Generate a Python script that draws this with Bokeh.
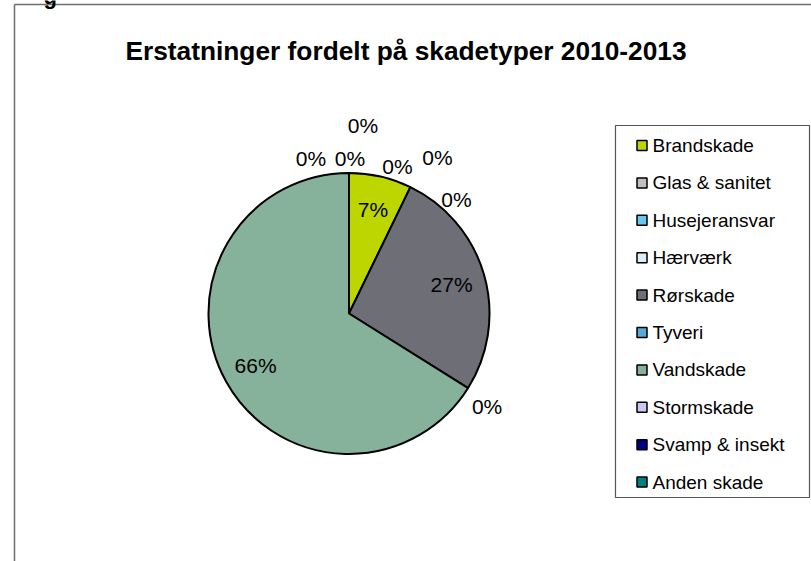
import math
from bokeh.plotting import figure
from bokeh.models import Range1d
from bokeh.embed import file_html
from bokeh.resources import INLINE
from bokeh.core.properties import value

# ---------------- data ----------------
categories = ["Brandskade", "Glas & sanitet", "Husejeransvar", "Hærværk", "Rørskade",
              "Tyveri", "Vandskade", "Stormskade", "Svamp & insekt", "Anden skade"]
shares = [7.2, 0.0, 0.0, 0.0, 26.7, 0.0, 66.1, 0.0, 0.0, 0.0]
colors = ["#BED600", "#C0C0C0", "#6CC8EA", "#DCEEF6", "#6E6E76",
          "#5AA8D6", "#86B29B", "#C8C8F0", "#000080", "#008080"]
title_text = "Erstatninger fordelt på skadetyper 2010-2013"

# ---------------- layout / style ----------------
W, H = 811, 561
FONT = value("Liberation Sans")
cx, cy, R = 348.5, 313.0, 140.5
inside_r = 0.76
# nudges (px) of the outside labels of zero slices, relative to their edge point
zero_nudge = {1: (-13, -21), 2: (27, -30), 3: (46, 12), 5: (19, 18),
              7: (-38, -15), 8: (1, -15), 9: (14, -48)}


def Y(py):
    return H - py


p = figure(width=W, height=H, x_range=Range1d(0, W), y_range=Range1d(0, H),
           output_backend="svg", toolbar_location=None, min_border=0,
           x_axis_location=None, y_axis_location=None, outline_line_color=None,
           background_fill_color="white", border_fill_color="white")
p.grid.visible = False

# chart-area frame (partly outside window)
p.segment(x0=[14, 14], y0=[Y(4), Y(4)], x1=[14, W + 5], y1=[Y(H + 5), Y(4)],
          line_color="#6E6E6E", line_width=1.5)

# cropped heading above the chart (only the descender shows)
p.text(x=[43], y=[Y(-4)], text=["g"], text_baseline="alphabetic", text_align="left",
       text_font=FONT, text_font_style="bold", text_font_size=value("22px"),
       text_color="black")

# title
p.text(x=[405.5], y=[Y(50)], text=[title_text], text_align="center",
       text_baseline="middle", text_font=FONT, text_font_style="bold",
       text_font_size=value("26.3px"), text_color="black")

# pie
total = sum(shares)
cum = 0.0
for i, (cat, s, col) in enumerate(zip(categories, shares, colors)):
    c0 = cum / total
    cum += s
    c1 = cum / total
    a0 = math.pi / 2 - 2 * math.pi * c0
    a1 = math.pi / 2 - 2 * math.pi * c1
    if s > 0:
        p.wedge(x=cx, y=Y(cy), radius=R, start_angle=a0, end_angle=a1,
                direction="clock", fill_color=col, line_color="black", line_width=2)
        am = (a0 + a1) / 2
        lx = cx + inside_r * R * math.cos(am)
        ly = Y(cy) + inside_r * R * math.sin(am)
        p.text(x=[lx], y=[ly], text=[f"{round(s / total * 100):.0f}%"],
               text_align="center", text_baseline="middle", text_font=FONT,
               text_font_size=value("21px"), text_color="black")

cum = 0.0
for i, s in enumerate(shares):
    cum += s
    if s == 0:
        a = math.pi / 2 - 2 * math.pi * (cum / total)
        ex = cx + R * math.cos(a)
        ey = Y(cy) + R * math.sin(a)
        dx, dy = zero_nudge[i]
        p.text(x=[ex + dx], y=[ey - dy], text=[f"{round(s / total * 100):.0f}%"],
               text_align="center", text_baseline="middle", text_font=FONT,
               text_font_size=value("21px"), text_color="black")

# legend
lg_left, lg_right, lg_top, lg_bottom = 615, 809, 125, 497
p.quad(left=[lg_left], right=[lg_right], top=[Y(lg_top)], bottom=[Y(lg_bottom)],
       fill_color="white", line_color="#555555", line_width=1.2)
row0, step = 145.0, 37.4
ys = [Y(row0 + step * i) for i in range(len(categories))]
p.rect(x=[641.5] * len(categories), y=ys, width=10, height=10,
       fill_color=colors, line_color="black", line_width=1.5)
p.text(x=[652] * len(categories), y=ys, text=categories, text_align="left",
       text_baseline="middle", text_font=FONT, text_font_size=value("19px"),
       text_color="black")

open("out.html", "w").write(file_html(p, INLINE))
